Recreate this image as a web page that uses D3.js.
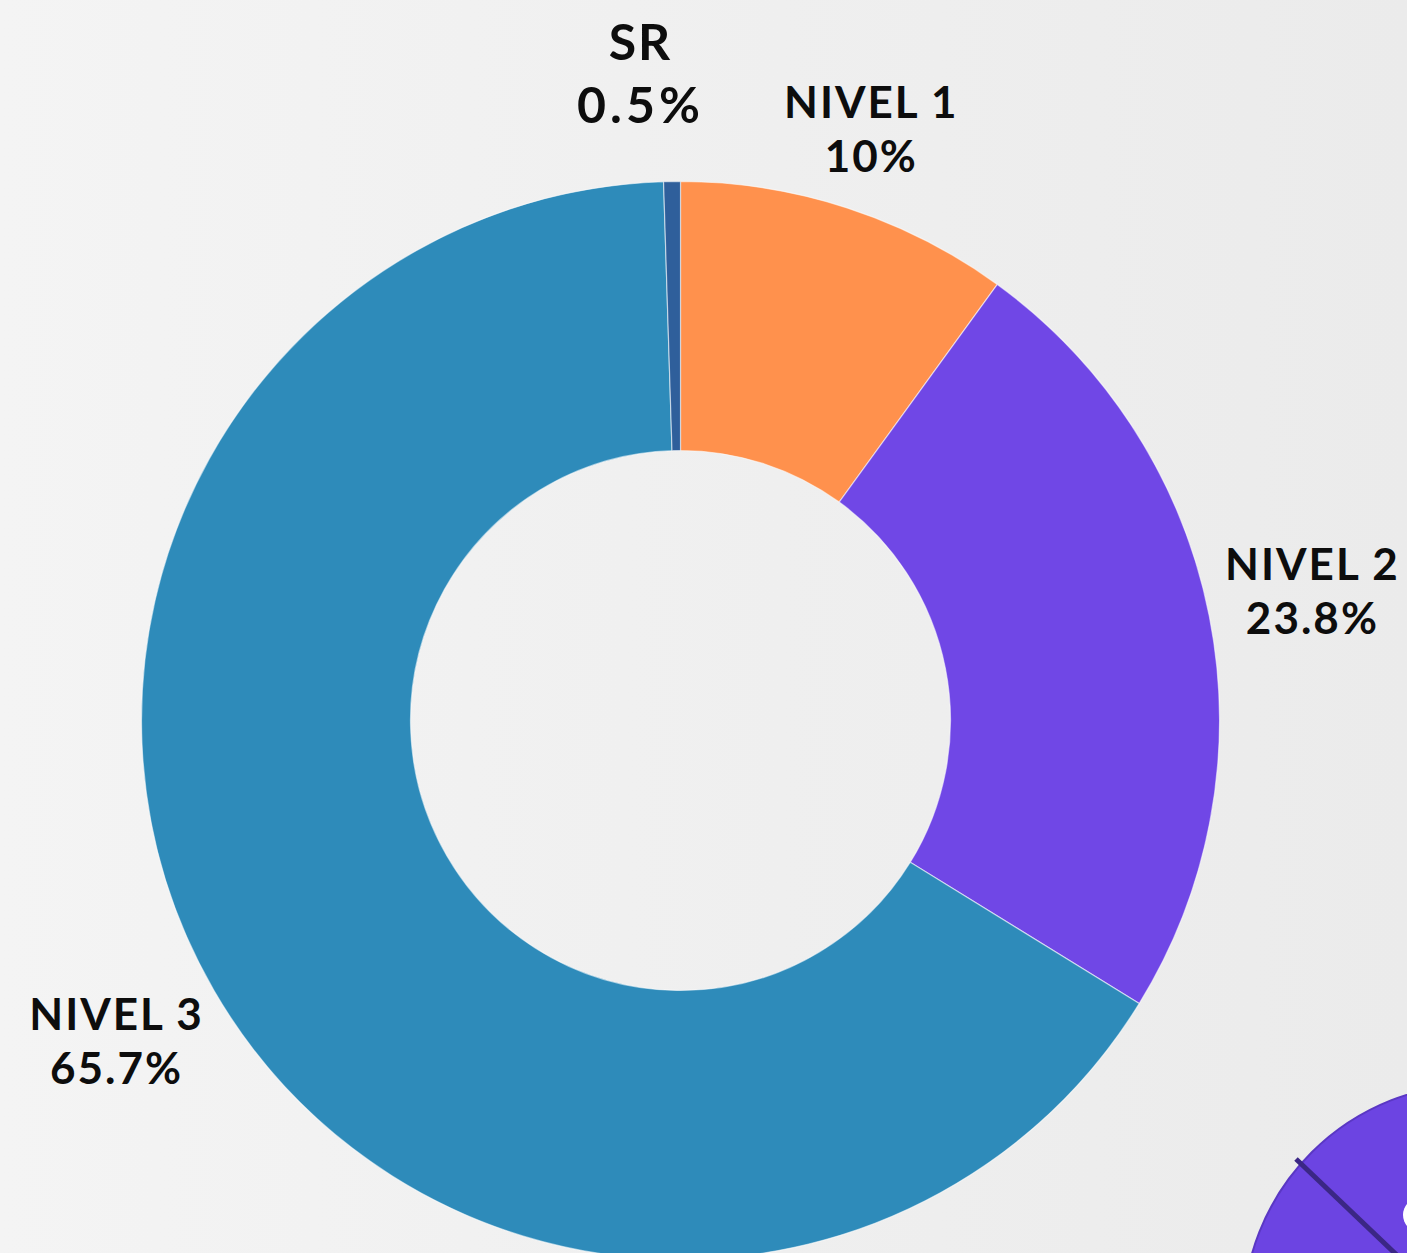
<!DOCTYPE html>
<html>
<head>
<meta charset="utf-8">
<script src="https://cdn.jsdelivr.net/npm/d3@7"></script>
<style>
  html, body { margin: 0; padding: 0; overflow: hidden; }
  body { width: 1407px; height: 1253px; }
  .lbl { font-family: Lato, "Noto Sans", sans-serif; font-weight: 700; fill: #0d0d0d; }
</style>
</head>
<body>
<svg id="chart"></svg>
<script>
// niveles de desempeño
var categories = ["NIVEL 1", "NIVEL 2", "NIVEL 3", "SR"];
var values = [10, 23.8, 65.7, 0.5];
var valueLabels = ["10%", "23.8%", "65.7%", "0.5%"];
var colors = ["#ff914d", "#7047e6", "#2e8bba", "#2f5f9b"];

var width = 1407, height = 1253;
var cx = 680.5, cy = 720.5;
var outerR = 539, innerR = 270;

var svg = d3.select('#chart')
    .attr('width', width)
    .attr('height', height);

// fondo gris claro con un leve degradado
var defs = svg.append('defs');
var grad = defs.append('linearGradient')
    .attr('id', 'bg')
    .attr('x1', '0').attr('y1', '0').attr('x2', '1').attr('y2', '0');
grad.append('stop').attr('offset', '0').attr('stop-color', '#f4f4f4');
grad.append('stop').attr('offset', '1').attr('stop-color', '#ebebeb');

svg.append('rect')
    .attr('width', width).attr('height', height)
    .attr('fill', 'url(#bg)');

// circulo decorativo abajo a la derecha
var deco = svg.append('g');
deco.append('circle')
    .attr('cx', 1477).attr('cy', 1318).attr('r', 234)
    .attr('fill', '#6c44e2')
    .attr('stroke', '#5a37c4').attr('stroke-width', 2);
deco.append('line')
    .attr('x1', 1296).attr('y1', 1159)
    .attr('x2', 1402).attr('y2', 1260)
    .attr('stroke', '#3b2785').attr('stroke-width', 5);
deco.append('circle')
    .attr('cx', 1420).attr('cy', 1215).attr('r', 17)
    .attr('fill', '#ffffff');

var chart = svg.append('g')
    .attr('transform', `translate(${cx}, ${cy})`)
    .classed('chart', true);

var data = categories.map(function(c, i){
    return { name: c, value: values[i], text: valueLabels[i], color: colors[i] };
});

var arcs = d3.pie()
    .sort(null)
    .value(d => d.value)(data);

var path = d3.arc()
    .outerRadius(outerR)
    .innerRadius(innerR);

chart.selectAll('.arc')
    .data(arcs)
    .enter()
    .append('path')
        .classed('arc', true)
        .attr('fill', d => d.data.color)
        .attr('stroke', 'rgba(255,255,255,0.55)')
        .attr('stroke-width', 1.2)
        .attr('d', path);

// etiquetas afuera del anillo
var labelArc = d3.arc().outerRadius(640).innerRadius(640);
var nudge = { "NIVEL 1": [-7, 18], "NIVEL 2": [4, -5], "NIVEL 3": [-10, 1], "SR": [-30, -5] };

var labels = chart.selectAll('.label')
    .data(arcs)
    .enter()
    .append('g')
        .classed('label', true)
        .attr('transform', function(d){
            var c = labelArc.centroid(d);
            var n = nudge[d.data.name];
            return `translate(${c[0] + n[0]}, ${c[1] + n[1]})`;
        });

labels.append('text')
    .classed('lbl', true)
    .attr('text-anchor', 'middle')
    .attr('y', d => d.data.name == "SR" ? -16 : -12)
    .attr('font-size', d => d.data.name == "SR" ? 50 : 44)
    .attr('letter-spacing', 2)
    .text(d => d.data.name);

labels.append('text')
    .classed('lbl', true)
    .attr('text-anchor', 'middle')
    .attr('y', d => d.data.name == "SR" ? 47 : 42)
    .attr('font-size', d => d.data.name == "SR" ? 50 : 44)
    .attr('font-weight', 500)
    .attr('letter-spacing', d => d.data.name == "SR" ? 4 : 2)
    .text(d => d.data.text);
</script>
</body>
</html>
